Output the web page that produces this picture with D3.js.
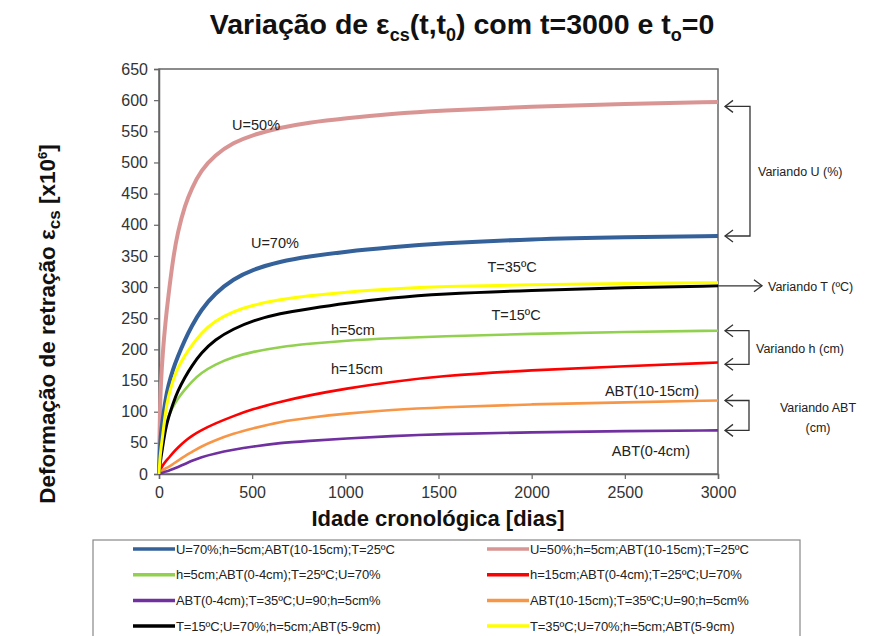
<!DOCTYPE html>
<html><head><meta charset="utf-8">
<script src="https://cdn.jsdelivr.net/npm/d3@7"></script>
<style>
body{margin:0;background:#fff;}
text{font-family:"Liberation Sans",Arial,sans-serif;}
</style></head>
<body><svg id="c" width="870" height="636"></svg>
<script>
const days = [0, 5, 10, 20, 35, 50, 75, 100, 140, 175, 225, 300, 400, 500, 650, 800, 1000, 1250, 1500, 2000, 2500, 3000];
const sU70  = [0, 40, 65, 88, 120, 142, 168, 188, 216, 237, 263, 290, 313, 328, 341, 349, 357, 364, 370, 377, 380, 382];
const sU50  = [0, 105, 145, 195, 245, 285, 345, 388, 432, 458, 487, 512, 532, 544, 556, 564, 571, 578, 583, 590, 594, 597];
const sH5   = [0, 15, 30, 55, 77, 92, 108, 121, 136, 148, 162, 176, 188, 196, 204, 209, 214, 218, 221, 225, 228, 230];
const sH15  = [0, 5, 8, 14, 20, 25, 34, 42, 53, 61, 70, 81, 93, 104, 116, 126, 137, 148, 157, 167, 173, 179];
const sABT04   = [0, 1, 1, 2, 4, 5, 8, 11, 16, 21, 27, 33, 39, 44, 50, 53, 57, 61, 64, 67, 69, 70];
const sABT1015 = [0, 2, 4, 6, 9, 11, 16, 21, 29, 35, 44, 54, 65, 73, 84, 90, 97, 103, 107, 112, 115, 118];
const sT15  = [0, 15, 25, 45, 72, 90, 113, 133, 156, 173, 194, 216, 233, 246, 258, 265, 274, 283, 289, 295, 299, 302];
const sT35  = [0, 25, 40, 62, 100, 125, 150, 170, 191, 206, 226, 246, 261, 271, 280, 286, 292, 297, 301, 304, 306, 307];
const legendNames = [
 "U=70%;h=5cm;ABT(10-15cm);T=25ºC","U=50%;h=5cm;ABT(10-15cm);T=25ºC",
 "h=5cm;ABT(0-4cm);T=25ºC;U=70%","h=15cm;ABT(0-4cm);T=25ºC;U=70%",
 "ABT(0-4cm);T=35ºC;U=90;h=5cm%","ABT(10-15cm);T=35ºC;U=90;h=5cm%",
 "T=15ºC;U=70%;h=5cm;ABT(5-9cm)","T=35ºC;U=70%;h=5cm;ABT(5-9cm)"];
const seriesValues = [sU70, sU50, sH5, sH15, sABT04, sABT1015, sT15, sT35];
const colors = ["#34619a","#d99594","#92d050","#ff0000","#7030a0","#f79646","#000000","#ffff00"];
const widths = [4, 4, 2.6, 2.6, 2.6, 2.6, 3, 3];
const xTicks = [0, 500, 1000, 1500, 2000, 2500, 3000];
const yTicks = d3.range(0, 651, 50);
const curveLabelText = ["U=50%","U=70%","T=35ºC","T=15ºC","h=5cm","h=15cm","ABT(10-15cm)","ABT(0-4cm)"];
const curveLabelT = [521, 622, 1895, 1916, 1041, 1062, 2646, 2640];
const curveLabelV = [552, 363, 324, 247, 223, 160, 125, 29];

const svg = d3.select("#c");
const L=159, R=718, T=69, B=474;
const x = d3.scaleLinear().domain([0,3000]).range([L,R]);
const y = d3.scaleLinear().domain([0,650]).range([B,T]);

// title
const title = svg.append("text").attr("x",462).attr("y",34).attr("text-anchor","middle")
  .attr("font-size",28.5).attr("font-weight","bold").attr("fill","#111");
title.append("tspan").text("Variação de ε");
title.append("tspan").text("cs").attr("font-size",18).attr("dy",7);
title.append("tspan").text("(t,t").attr("dy",-7);
title.append("tspan").text("0").attr("font-size",18).attr("dy",7);
title.append("tspan").text(") com t=3000 e t").attr("dy",-7);
title.append("tspan").text("o").attr("font-size",18).attr("dy",7);
title.append("tspan").text("=0").attr("dy",-7);

// frame
svg.append("rect").attr("x",L).attr("y",T).attr("width",R-L).attr("height",B-T)
  .attr("fill","none").attr("stroke","#666").attr("stroke-width",1.5);

// axes
const yAxis = svg.append("g").attr("transform",`translate(${L},0)`)
  .call(d3.axisLeft(y).tickValues(yTicks).tickSize(5).tickPadding(6));
const xAxis = svg.append("g").attr("transform",`translate(0,${B})`)
  .call(d3.axisBottom(x).tickValues(xTicks).tickFormat(d3.format("d")).tickSize(5).tickPadding(8));
[yAxis,xAxis].forEach(g=>{
  g.select(".domain").attr("stroke","#666").attr("stroke-width",1.5);
  g.selectAll(".tick line").attr("stroke","#666").attr("stroke-width",1.2);
  g.selectAll(".tick text").attr("font-size",16).attr("fill","#333")
   .attr("font-family","'Liberation Sans',Arial,sans-serif");
});

// axis labels
svg.append("text").attr("x",438).attr("y",526).attr("text-anchor","middle")
  .attr("font-size",22).attr("font-weight","bold").attr("fill","#111").text("Idade cronológica [dias]");
const yl = svg.append("text").attr("transform","translate(55,324) rotate(-90)").attr("text-anchor","middle")
  .attr("font-size",22.5).attr("font-weight","bold").attr("fill","#111");
yl.append("tspan").text("Deformação de retração ε");
yl.append("tspan").text("cs").attr("dy",5).attr("font-size",17);
yl.append("tspan").text(" [x10").attr("dy",-5);
yl.append("tspan").text("6").attr("dy",-8).attr("font-size",13);
yl.append("tspan").text("]").attr("dy",8);

// lines
const line = d3.line().x(d=>x(d[0])).y(d=>y(d[1])).curve(d3.curveBasis);
const drawOrder = [1,0,3,2,5,4,6,7];
drawOrder.forEach(i=>{
  svg.append("path").datum(days.map((t,k)=>[t,seriesValues[i][k]]))
    .attr("d",line).attr("fill","none").attr("stroke",colors[i])
    .attr("stroke-width",widths[i]).attr("stroke-linejoin","round");
});

// in-plot labels
curveLabelText.forEach((s,i)=>svg.append("text").attr("x",x(curveLabelT[i])).attr("y",y(curveLabelV[i]))
  .attr("text-anchor","middle").attr("font-size",14.5).attr("fill","#222").text(s));

// right annotations
const ann = svg.append("g").attr("fill","none").attr("stroke","#333").attr("stroke-width",1.3);
function chevL(xx,yy){ann.append("path").attr("d",`M${xx+8},${yy-6}L${xx},${yy}L${xx+8},${yy+6}`);}
function chevR(xx,yy){ann.append("path").attr("d",`M${xx-8},${yy-6}L${xx},${yy}L${xx-8},${yy+6}`);}
function bracket(y1,y2,bx){
  ann.append("path").attr("d",`M${R+7},${y1}H${bx}V${y2}H${R+7}`);
  chevL(R+7,y1); chevL(R+7,y2);
}
bracket(y(590), y(382), 750);
bracket(y(230), y(176), 749);
bracket(y(118), y(70), 749);
ann.append("path").attr("d",`M${R},${y(302)}H${762}`);
chevR(762, y(302));
const annText = ["Variando U (%)","Variando T (ºC)","Variando h (cm)","Variando ABT","(cm)"];
const annX = [758, 768, 756, 818, 818];
const annV = [487, 302, 202, 107, 75];
const annAnchor = ["start","start","start","middle","middle"];
annText.forEach((s,i)=>svg.append("text").attr("x",annX[i]).attr("y",y(annV[i])+5).attr("text-anchor",annAnchor[i])
  .attr("font-size",12.5).attr("fill","#222").text(s));

// legend
svg.append("rect").attr("x",93).attr("y",540).attr("width",707).attr("height",110)
  .attr("fill","#fff").attr("stroke","#888").attr("stroke-width",1.2);
legendNames.forEach((n,i)=>{
  const col=i%2, row=Math.floor(i/2);
  const lx = col===0?133:487, ly = 549+row*25.7;
  svg.append("line").attr("x1",lx).attr("x2",lx+42).attr("y1",ly).attr("y2",ly)
    .attr("stroke",colors[i]).attr("stroke-width",3.5);
  svg.append("text").attr("x",lx+43).attr("y",ly+4.5).attr("font-size",13)
    .attr("letter-spacing",-0.1).attr("fill","#222").text(n);
});
</script></body></html>
